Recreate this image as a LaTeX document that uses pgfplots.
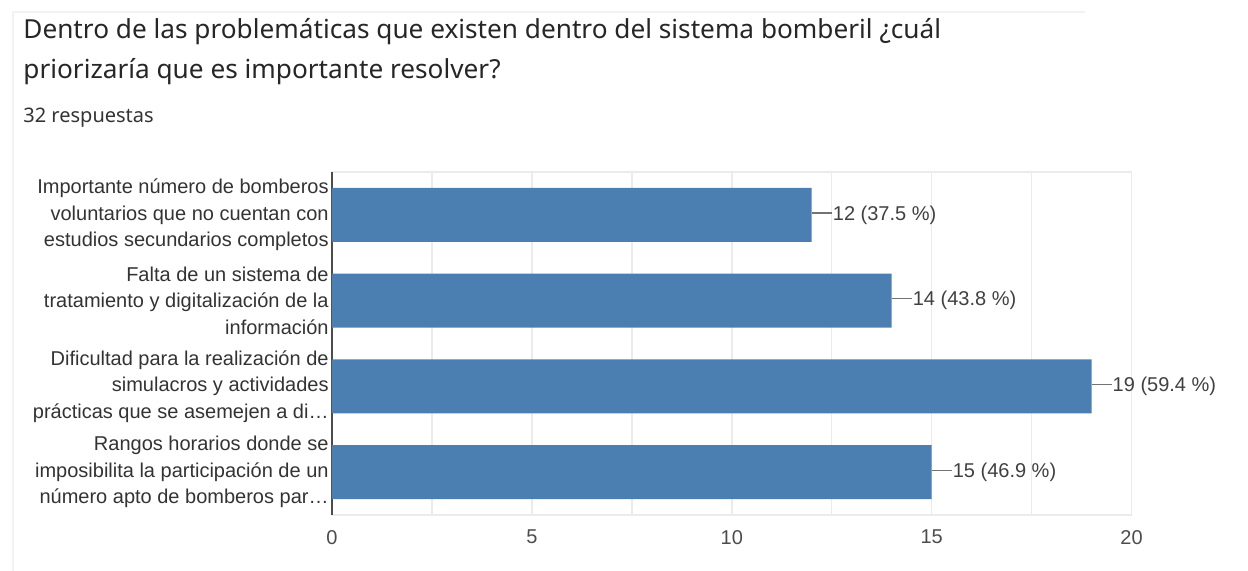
\documentclass[border=0pt]{standalone}
\usepackage{fontspec}
\setmainfont{Liberation Sans}
\newfontfamily\titlefont{Noto Sans}
\usepackage{pgfplots}
\pgfplotsset{compat=1.18}

\definecolor{barblue}{HTML}{4B7FB2}
\definecolor{gridgray}{HTML}{EBEBEB}
\definecolor{txt}{HTML}{333333}

\begin{document}
\begin{tikzpicture}[x=1pt,y=1pt]
\path[use as bounding box] (0,0) rectangle (624,285.5);
% faint card frame
\draw[black!5, line width=0.8pt] (6.5,0) -- (6.5,279.5) -- (542.5,279.5);

\node[anchor=base west, inner sep=0, text=black!85,
      font=\titlefont\fontsize{13.1}{15}\selectfont] at (11.5,266) {Dentro de las problemáticas que existen dentro del sistema bomberil ¿cuál};
\node[anchor=base west, inner sep=0, text=black!85,
      font=\titlefont\fontsize{13.1}{15}\selectfont] at (11.5,246) {priorizaría que es importante resolver?};
\node[anchor=base west, inner sep=0, text=black!80,
      font=\titlefont\fontsize{10}{12}\selectfont] at (11.5,224) {32 respuestas};

\begin{axis}[
    at={(166pt,28pt)}, anchor=south west,
    scale only axis,
    width=399.75pt, height=171.5pt,
    xbar, bar width=0.63,
    xmin=0, xmax=20,
    ymin=0.5, ymax=4.5,
    y dir=reverse,
    xtick={0,5,10,15,20},
    minor x tick num=1,
    xmajorgrids, xminorgrids,
    grid style={draw=gridgray, line width=0.8pt},
    minor grid style={draw=gridgray, line width=0.8pt},
    major tick length=0pt, minor tick length=0pt,
    axis line style={draw=gridgray, line width=0.8pt},
    extra x ticks={0},
    extra x tick labels={},
    extra x tick style={grid style={draw=black!70, line width=1pt}},
    ytick={1,2,3,4},
    yticklabels={
      {Importante número de bomberos\\voluntarios que no cuentan con\\estudios secundarios completos},
      {Falta de un sistema de\\tratamiento y digitalización de la\\información},
      {Dificultad para la realización de\\simulacros y actividades\\prácticas que se asemejen a di…},
      {Rangos horarios donde se\\imposibilita la participación de un\\número apto de bomberos par…}},
    yticklabel style={align=right, font=\fontsize{10}{13.3}\selectfont, text=txt, inner sep=1.5pt},
    xticklabel style={font=\fontsize{10}{12}\selectfont, text=black!70, yshift=-4pt},
    /pgf/number format/assume math mode=true,
    point meta=explicit symbolic,
    nodes near coords={\textcolor{black!55}{\rule[0.32em]{10pt}{0.6pt}}\hspace{0.4pt}\pgfplotspointmeta},
    nodes near coords style={anchor=west, inner sep=0pt, font=\fontsize{10}{12}\selectfont, text=black!75},
    clip=false,
]
\addplot[draw=none, fill=barblue] coordinates {
  (12,1) [12 (37.5 \%)]
  (14,2) [14 (43.8 \%)]
  (19,3) [19 (59.4 \%)]
  (15,4) [15 (46.9 \%)]
};
\end{axis}
\end{tikzpicture}
\end{document}
